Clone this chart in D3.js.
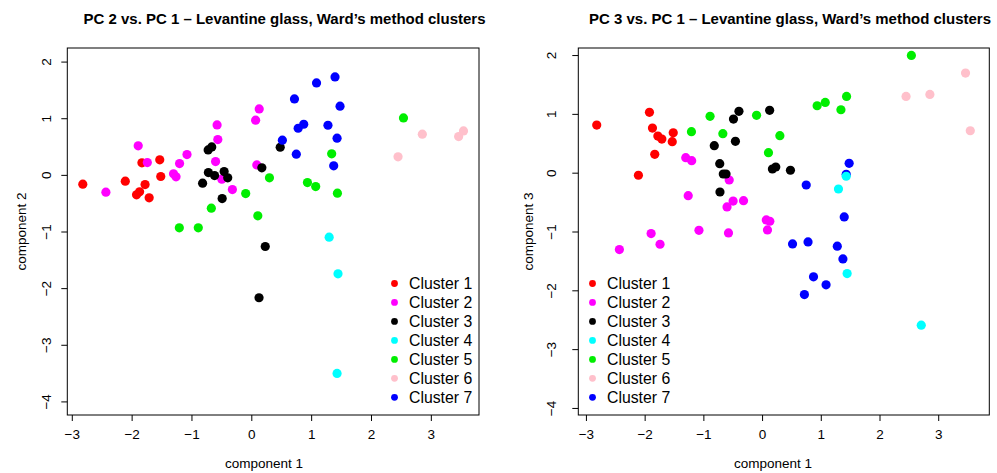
<!DOCTYPE html>
<html>
<head>
<meta charset="utf-8">
<script src="https://cdn.jsdelivr.net/npm/d3@7"></script>
<style>
  html, body { margin: 0; padding: 0; background: #fff; }
  svg { display: block; font-family: "Liberation Sans", Arial, Helvetica, sans-serif; }
</style>
</head>
<body>
<svg id="chart" width="997" height="473"></svg>
<script>
// Principal component scores of the Levantine glass samples, with Ward's cluster labels.
const clusterNames = ["Cluster 1", "Cluster 2", "Cluster 3", "Cluster 4", "Cluster 5", "Cluster 6", "Cluster 7"];

const cluster = [
  1, 1, 1, 1, 1, 1, 1, 1, 1,
  2, 2, 2, 2, 2, 2, 2, 2, 2, 2, 2, 2, 2, 2, 2,
  3, 3, 3, 3, 3, 3, 3, 3, 3, 3, 3, 3,
  5, 5, 5, 5, 5, 5, 5, 5, 5, 5, 5,
  6, 6, 6, 6,
  7, 7, 7, 7, 7, 7, 7, 7, 7, 7, 7,
  4, 4, 4, 4
];

const pc1 = [
  -2.816, -2.106, -1.828, -1.530, -1.513, -1.775, -1.867, -1.918, -1.707,
  -1.890, -2.430, -1.738, -1.199, -1.075, -1.300, -1.258, -0.597, -0.572, -0.560, -0.493, -0.316, 0.132, 0.072, 0.092,
  -0.721, -0.717, -0.661, -0.614, -0.454, -0.394, -0.814, -0.487, 0.176, 0.483, 0.233, 0.129,
  -1.203, -0.886, -0.668, -0.094, 0.109, 0.303, 0.938, 1.076, 1.343, 1.439, 2.543,
  2.858, 2.452, 3.465, 3.546,
  1.399, 1.090, 0.721, 1.483, 0.876, 0.783, 1.281, 1.433, 0.519, 0.752, 1.377,
  1.301, 1.449, 1.433, 2.711
];

// null: score falls outside the plotted PC 2 range
const pc2 = [
  -0.164, -0.111, 0.212, 0.265, -0.029, -0.171, -0.300, -0.353, -0.406,
  0.512, -0.306, 0.217, 0.200, 0.359, 0.018, -0.035, 0.235, 0.882, 0.623, -0.076, -0.259, 1.165, 0.965, 0.176,
  0.441, 0.041, 0.494, -0.012, 0.058, -0.053, -0.146, -0.418, 0.124, 0.488, -1.265, -2.170,
  -0.935, -0.935, -0.588, -0.330, -0.723, -0.053, -0.136, -0.206, 0.371, -0.323, 1.006,
  0.718, 0.318, 0.676, 0.776,
  1.729, 1.623, 1.341, 1.212, 0.894, 0.823, 0.876, 0.647, 0.612, 0.365, 0.159,
  -1.100, -1.747, -3.506, null
];

const pc3 = [
  0.810, -0.044, 0.312, 0.527, 0.679, 0.623, 0.759, 1.026, 0.572,
  -1.036, -1.308, -1.217, 0.204, -0.980, 0.255, -0.391, -0.583, -1.024, -0.124, -0.482, -0.476, -0.826, -0.803, -0.973,
  0.153, -0.328, -0.022, -0.022, 0.533, 1.043, 0.459, 0.912, 0.063, 0.041, 0.097, 1.060,
  0.697, 0.958, 0.663, 0.975, 0.340, 0.629, 1.138, 1.195, 1.070, 1.297, 1.994,
  1.331, 1.297, 1.693, 0.713,
  -0.752, -1.907, -2.072, 0.160, -1.771, -1.177, -1.250, -0.027, -1.211, -0.209, -1.466,
  -0.277, -1.715, -0.061, -2.592
];

const xTicks = [-3, -2, -1, 0, 1, 2, 3];
const yTicks = [-4, -3, -2, -1, 0, 1, 2];

// Cluster colours (R's named colours)
const palette = ["#ff0000", "#ff00ff", "#000000", "#00ffff", "#00ee00", "#ffc0cb", "#0000ff"];

const svg = d3.select("#chart");
const minus = v => String(v).replace("-", "\u2212");

function drawPanel(p) {
  const g = svg.append("g");
  const x = d3.scaleLinear().domain(p.xDomain).range([p.left, p.right]);
  const y = d3.scaleLinear().domain(p.yDomain).range([p.bottom, p.top]);

  // points
  const rows = pc1.map((v, i) => ({ x: v, y: p.yValues[i], c: cluster[i] }))
                  .filter(d => d.y !== null);
  g.append("g").selectAll("circle").data(rows).join("circle")
    .attr("cx", d => x(d.x))
    .attr("cy", d => y(d.y))
    .attr("r", 4.6)
    .attr("fill", d => palette[d.c - 1]);

  // axes
  const xAxis = g.append("g").attr("transform", `translate(0,${p.bottom})`)
    .call(d3.axisBottom(x).tickValues(xTicks).tickSize(6).tickPadding(8).tickFormat(minus));
  xAxis.select(".domain").remove();
  xAxis.selectAll("text").attr("font-size", 13.5).attr("fill", "#000")
    .attr("font-family", "Liberation Sans, Arial, sans-serif");
  xAxis.selectAll("line").attr("stroke", "#000");

  const yAxis = g.append("g").attr("transform", `translate(${p.left},0)`)
    .call(d3.axisLeft(y).tickValues(yTicks).tickSize(6).tickFormat(minus));
  yAxis.select(".domain").remove();
  yAxis.selectAll("line").attr("stroke", "#000");
  yAxis.selectAll("text")
    .attr("x", null).attr("dy", null)
    .attr("text-anchor", "middle")
    .attr("transform", `translate(${-p.yLabelOffset},0) rotate(-90)`)
    .attr("dy", "0.36em")
    .attr("font-size", 13.5).attr("fill", "#000")
    .attr("font-family", "Liberation Sans, Arial, sans-serif");

  // plot frame
  g.append("rect")
    .attr("x", p.left).attr("y", p.top)
    .attr("width", p.right - p.left).attr("height", p.bottom - p.top)
    .attr("fill", "none").attr("stroke", "#000").attr("stroke-width", 1);

  // titles
  g.append("text")
    .attr("x", p.titleX).attr("y", 24)
    .attr("text-anchor", "middle")
    .attr("font-size", 15).attr("font-weight", "bold")
    .attr("textLength", 402).attr("lengthAdjust", "spacingAndGlyphs")
    .text(p.title);

  g.append("text")
    .attr("x", p.xLabelX).attr("y", 468)
    .attr("text-anchor", "middle")
    .attr("font-size", 13.5)
    .text("component 1");

  g.append("text")
    .attr("transform", `translate(${p.yLabelX},${(p.top + p.bottom) / 2}) rotate(-90)`)
    .attr("text-anchor", "middle")
    .attr("dy", "0.36em")
    .attr("font-size", 13.5)
    .text(p.yLabel);

  // legend
  const leg = g.append("g").selectAll("g").data(clusterNames).join("g")
    .attr("transform", (d, i) => `translate(${p.legendX},${283.5 + i * 18.97})`);
  leg.append("circle").attr("r", 3.4).attr("fill", (d, i) => palette[i]);
  leg.append("text").attr("x", 14.5).attr("dy", "0.36em")
    .attr("font-size", 15.8).text(d => d);
}

drawPanel({
  left: 67.3, right: 479, top: 48, bottom: 415,
  xDomain: [-3.075, 3.805], yDomain: [-4.24, 2.24],
  yValues: pc2,
  title: "PC 2 vs. PC 1 \u2013 Levantine glass, Ward\u2019s method clusters",
  titleX: 284.5, xLabelX: 264, yLabel: "component 2", yLabelX: 21, yLabelOffset: 21.5,
  legendX: 394.5
});

drawPanel({
  left: 578.3, right: 989.3, top: 48, bottom: 415,
  xDomain: [-3.13, 3.87], yDomain: [-4.12, 2.12],
  yValues: pc3,
  title: "PC 3 vs. PC 1 \u2013 Levantine glass, Ward\u2019s method clusters",
  titleX: 790, xLabelX: 773, yLabel: "component 3", yLabelX: 528, yLabelOffset: 27.5,
  legendX: 592.5
});
</script>
</body>
</html>
